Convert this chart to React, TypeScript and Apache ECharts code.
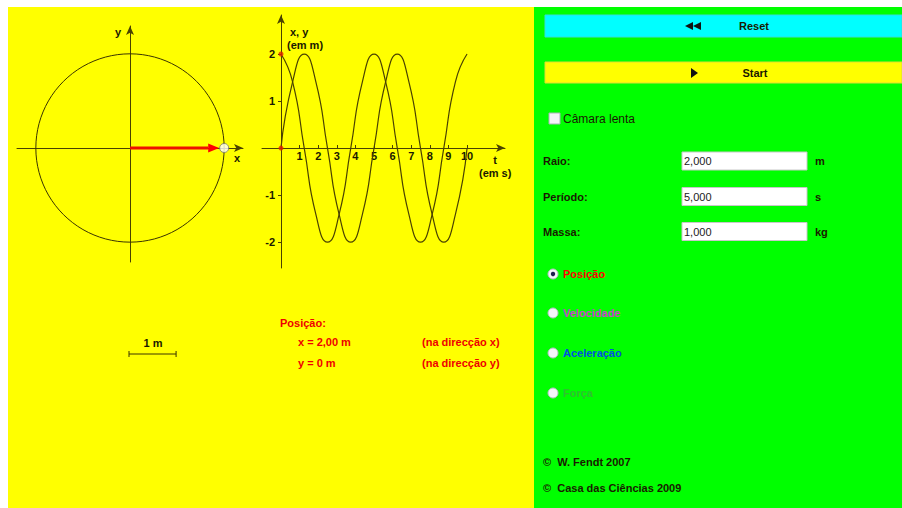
import React, { useEffect, useRef } from "react";
import * as echarts from "echarts";

// ---- data ----
const T_VALUES = [0, 0.625, 1.25, 1.875, 2.5, 3.125, 3.75, 4.375, 5, 5.625, 6.25, 6.875, 7.5, 8.125, 8.75, 9.375, 10];
const X_VALUES = [2, 1.41, 0, -1.41, -2, -1.41, 0, 1.41, 2, 1.41, 0, -1.41, -2, -1.41, 0, 1.41, 2];
const Y_VALUES = [0, 1.41, 2, 1.41, 0, -1.41, -2, -1.41, 0, 1.41, 2, 1.41, 0, -1.41, -2, -1.41, 0];
const T_TICKS = [1, 2, 3, 4, 5, 6, 7, 8, 9, 10];
const XY_TICKS = [-2, -1, 1, 2];
const RADIUS = 2;
const POS_X = 2;
const POS_Y = 0;
const SCALE_LEN = 1;
const FIELD_LABELS = ["Raio:", "Período:", "Massa:"];
const FIELD_VALUES = ["2,000", "5,000", "1,000"];
const FIELD_UNITS = ["m", "s", "kg"];
const RADIO_LABELS = ["Posição", "Velocidade", "Aceleração", "Força"];
const RADIO_COLORS = ["#ff0000", "#cc44cc", "#0050e0", "#30c030"];

const FONT = '"Liberation Sans", Arial, sans-serif';
const AXIS = "#4a4200";
const DARK = "#1a1a00";
const RED = "#ee0000";

// graph geometry (pixels)
const G_LEFT = 262, G_TOP = 15, G_W = 243, G_H = 253;
const T_MIN = -1.02, T_MAX = 12.04, V_MIN = -2.55, V_MAX = 2.83;

function txt(x: number, y: number, text: string, opts: any = {}) {
  const align = opts.align || "left";
  return {
    type: "text",
    x,
    y,
    z: 20,
    style: {
      text,
      fill: opts.fill || DARK,
      font: `${opts.weight || "bold"} ${opts.size || 11}px ${FONT}`,
      textAlign: align,
      align,
      textVerticalAlign: "middle",
      verticalAlign: "middle",
    },
  };
}

export default function App() {
  const ref = useRef<HTMLDivElement>(null);

  useEffect(() => {
    if (!ref.current) return;
    const chart = echarts.init(ref.current, undefined, { renderer: "svg" });

    const graphic: any[] = [
      { type: "rect", z: -10, shape: { x: 8, y: 7, width: 526, height: 501 }, style: { fill: "#ffff00" } },
      { type: "rect", z: -10, shape: { x: 534, y: 7, width: 368, height: 501 }, style: { fill: "#00ff00" } },
      // buttons
      { type: "rect", z: 5, shape: { x: 545, y: 15, width: 357, height: 22 }, style: { fill: "#00ffff", stroke: "#33dddd", lineWidth: 1 } },
      { type: "rect", z: 5, shape: { x: 545, y: 62, width: 357, height: 21 }, style: { fill: "#ffff00", stroke: "#dddd33", lineWidth: 1 } },
      { type: "polygon", z: 20, shape: { points: [[685, 26], [693, 22], [693, 30]] }, style: { fill: "#111" } },
      { type: "polygon", z: 20, shape: { points: [[693, 26], [701, 22], [701, 30]] }, style: { fill: "#111" } },
      txt(754, 26, "Reset", { align: "center" }),
      { type: "polygon", z: 20, shape: { points: [[691, 68], [698, 73], [691, 78]] }, style: { fill: "#111" } },
      txt(755, 73, "Start", { align: "center" }),
      // checkbox
      { type: "rect", z: 5, shape: { x: 549, y: 113, width: 11, height: 11 }, style: { fill: "#f4f4f8", stroke: "#aab0b8", lineWidth: 1 } },
      txt(563, 118.5, "Câmara lenta", { weight: "normal", size: 12 }),
      // copyrights
      txt(543, 462, "©  W. Fendt 2007"),
      txt(543, 488, "©  Casa das Ciências 2009"),
      // left panel texts
      txt(118, 32, "y", { align: "center" }),
      txt(237, 158, "x", { align: "center" }),
      txt(290, 32, "x, y"),
      txt(287, 45, "(em m)"),
      txt(495, 160, "t", { align: "center" }),
      txt(479, 173, "(em s)"),
      txt(153, 343, "1 m", { align: "center" }),
      txt(280, 323, "Posição:", { fill: RED }),
      txt(298, 342, `x = ${POS_X.toFixed(2).replace(".", ",")} m`, { fill: RED }),
      txt(298, 363, `y = ${POS_Y} m`, { fill: RED }),
      txt(422, 342, "(na direcção x)", { fill: RED }),
      txt(422, 363, "(na direcção y)", { fill: RED }),
    ];

    const fieldY = [161, 196.5, 231.5];
    FIELD_LABELS.forEach((lab, i) => {
      const cy = fieldY[i];
      graphic.push(txt(543, cy, lab));
      graphic.push({ type: "rect", z: 5, shape: { x: 682, y: cy - 9, width: 125, height: 18 }, style: { fill: "#ffffff", stroke: "#c8c8c8", lineWidth: 1 } });
      graphic.push(txt(684, cy, FIELD_VALUES[i], { weight: "normal", fill: "#222" }));
      graphic.push(txt(815, cy, FIELD_UNITS[i]));
    });

    const radioY = [274, 313, 353, 393];
    RADIO_LABELS.forEach((lab, i) => {
      const cy = radioY[i];
      graphic.push({ type: "circle", z: 5, shape: { cx: 553, cy, r: 5 }, style: { fill: "#f4f4fa", stroke: "#b8bcc8", lineWidth: 1 } });
      if (i === 0) graphic.push({ type: "circle", z: 6, shape: { cx: 553, cy, r: 2.2 }, style: { fill: "#202050" } });
      graphic.push(txt(563, cy, lab, { fill: RADIO_COLORS[i] }));
    });

    const axisLabelStyle = { color: DARK, fontFamily: FONT, fontWeight: "bold", fontSize: 11 };

    // offsets that move the graph axes onto the zero lines (labels follow)
    const xOffset = -Math.round(G_H * (0 - V_MIN) / (V_MAX - V_MIN));
    const yOffset = -Math.round(G_W * (0 - T_MIN) / (T_MAX - T_MIN));

    const option: any = {
      animation: false,
      backgroundColor: "#ffffff",
      grid: [
        { left: G_LEFT, top: G_TOP, width: G_W, height: G_H, outerBoundsMode: "none", containLabel: false },
        { left: 17, top: 26, width: 226, height: 236, outerBoundsMode: "none", containLabel: false },
      ],
      xAxis: [
        {
          type: "value",
          gridIndex: 0,
          min: T_MIN,
          max: T_MAX,
          position: "bottom",
          offset: xOffset,
          axisLine: { onZero: false, symbol: ["none", "arrow"], symbolSize: [6, 9], lineStyle: { color: AXIS, width: 1 } },
          axisTick: { show: true, customValues: T_TICKS, inside: true, length: 3, lineStyle: { color: AXIS } },
          axisLabel: { show: true, customValues: T_TICKS, margin: 2, ...axisLabelStyle },
          splitLine: { show: false },
        },
        {
          type: "value",
          gridIndex: 1,
          min: -2.4,
          max: 2.4,
          axisLine: { onZero: true, symbol: ["none", "arrow"], symbolSize: [6, 9], lineStyle: { color: AXIS, width: 1 } },
          axisTick: { show: false },
          axisLabel: { show: false },
          splitLine: { show: false },
        },
      ],
      yAxis: [
        {
          type: "value",
          gridIndex: 0,
          min: V_MIN,
          max: V_MAX,
          position: "left",
          offset: yOffset,
          axisLine: { onZero: false, symbol: ["none", "arrow"], symbolSize: [6, 9], lineStyle: { color: AXIS, width: 1 } },
          axisTick: { show: true, customValues: XY_TICKS, length: 3, lineStyle: { color: AXIS } },
          axisLabel: { show: true, customValues: XY_TICKS, margin: 6, ...axisLabelStyle },
          splitLine: { show: false },
        },
        {
          type: "value",
          gridIndex: 1,
          min: -2.43,
          max: 2.6,
          axisLine: { onZero: true, symbol: ["none", "arrow"], symbolSize: [6, 9], lineStyle: { color: AXIS, width: 1 } },
          axisTick: { show: false },
          axisLabel: { show: false },
          splitLine: { show: false },
        },
      ],
      series: [
        {
          type: "line",
          name: "x",
          xAxisIndex: 0,
          yAxisIndex: 0,
          data: T_VALUES.map((t, i) => [t, X_VALUES[i]]),
          smooth: 0.55,
          showSymbol: false,
          lineStyle: { color: AXIS, width: 1.2 },
          z: 3,
        },
        {
          type: "line",
          name: "y",
          xAxisIndex: 0,
          yAxisIndex: 0,
          data: T_VALUES.map((t, i) => [t, Y_VALUES[i]]),
          smooth: 0.55,
          showSymbol: false,
          lineStyle: { color: AXIS, width: 1.2 },
          z: 3,
        },
        {
          type: "scatter",
          xAxisIndex: 0,
          yAxisIndex: 0,
          data: [[0, POS_X], [0, POS_Y]],
          symbol: "circle",
          symbolSize: 5,
          itemStyle: { color: "#e02000" },
          z: 5,
        },
        {
          type: "custom",
          xAxisIndex: 1,
          yAxisIndex: 1,
          data: [[0, 0, RADIUS]],
          renderItem: (params: any, api: any) => {
            const c = api.coord([api.value(0), api.value(1)]);
            const r = api.size([api.value(2), 0])[0];
            return {
              type: "circle",
              shape: { cx: c[0], cy: c[1], r },
              style: { fill: "none", stroke: "#3a3400", lineWidth: 1 },
            };
          },
          z: 3,
        },
        {
          type: "custom",
          xAxisIndex: 1,
          yAxisIndex: 1,
          data: [[POS_X, POS_Y]],
          renderItem: (params: any, api: any) => {
            const o = api.coord([0, 0]);
            const p = api.coord([api.value(0), api.value(1)]);
            const dx = p[0] - o[0];
            const dy = p[1] - o[1];
            const len = Math.sqrt(dx * dx + dy * dy) || 1;
            const ux = dx / len;
            const uy = dy / len;
            const nx = -uy;
            const ny = ux;
            const tip = [p[0] - ux * 5, p[1] - uy * 5];
            const base = [tip[0] - ux * 11, tip[1] - uy * 11];
            return {
              type: "group",
              children: [
                { type: "line", shape: { x1: o[0], y1: o[1], x2: base[0], y2: base[1] }, style: { stroke: "#ee1100", lineWidth: 3 } },
                {
                  type: "polygon",
                  shape: { points: [tip, [base[0] + nx * 4.5, base[1] + ny * 4.5], [base[0] - nx * 4.5, base[1] - ny * 4.5]] },
                  style: { fill: "#ff0000" },
                },
              ],
            };
          },
          z: 4,
        },
        {
          type: "scatter",
          xAxisIndex: 1,
          yAxisIndex: 1,
          data: [[POS_X, POS_Y]],
          symbol: "circle",
          symbolSize: 9,
          itemStyle: { color: "#ffffff", borderColor: "#707070", borderWidth: 1 },
          z: 6,
        },
        {
          type: "custom",
          xAxisIndex: 1,
          yAxisIndex: 1,
          data: [[0, SCALE_LEN]],
          renderItem: (params: any, api: any) => {
            const p0 = api.coord([api.value(0), 0]);
            const len = api.size([api.value(1), 0])[0];
            const y = 354;
            const x0 = p0[0] - 1;
            const x1 = x0 + len;
            const st = { stroke: "#3a3400", lineWidth: 1 };
            return {
              type: "group",
              children: [
                { type: "line", shape: { x1: x0, y1: y, x2: x1, y2: y }, style: st },
                { type: "line", shape: { x1: x0, y1: y - 3, x2: x0, y2: y + 3 }, style: st },
                { type: "line", shape: { x1: x1, y1: y - 3, x2: x1, y2: y + 3 }, style: st },
              ],
            };
          },
          z: 3,
        },
      ],
      graphic,
    };

    chart.setOption(option);
    return () => chart.dispose();
  }, []);

  return (
    <div
      ref={ref}
      style={{ position: "fixed", left: 0, top: 0, width: 902, height: 508 }}
    />
  );
}
